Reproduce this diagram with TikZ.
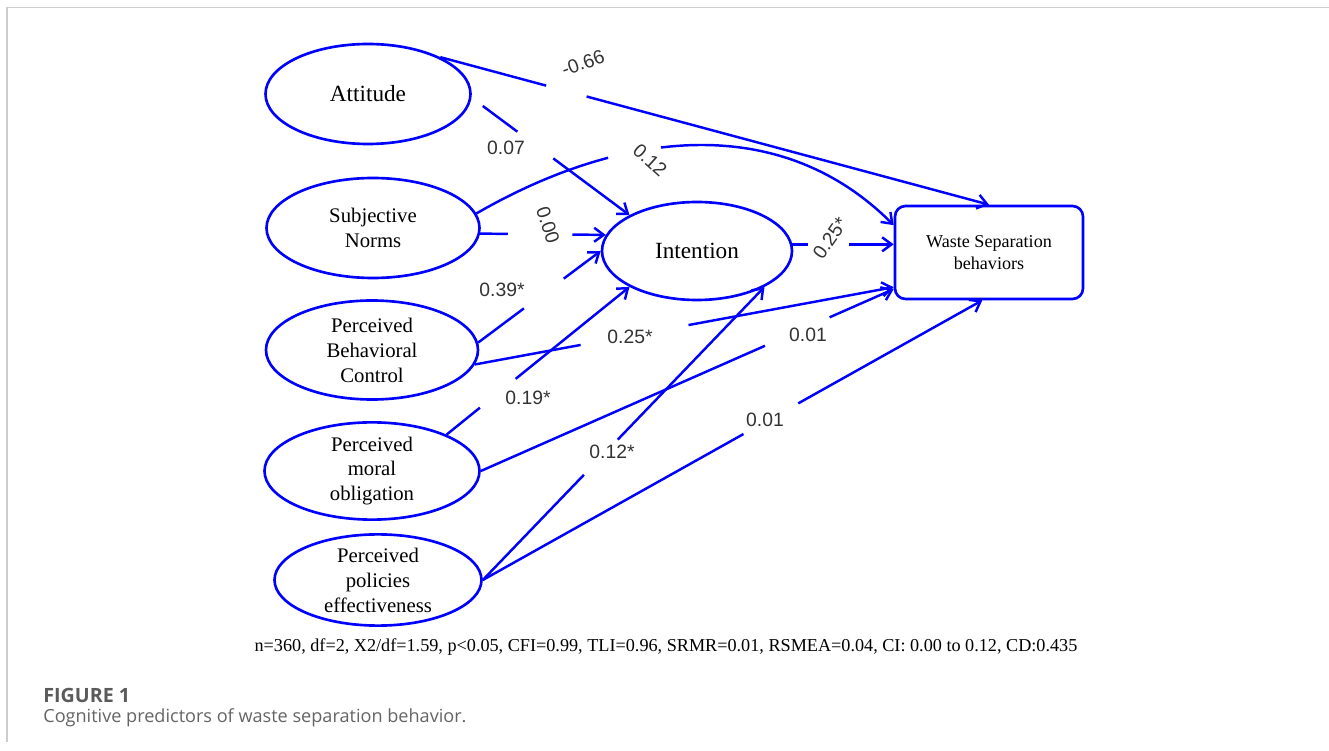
\documentclass[tikz,border=0pt]{standalone}
\usepackage{fontspec}
\setmainfont{Liberation Serif}
\newfontfamily\lblfont{Liberation Sans}
\newfontfamily\capfont{Open Sans}
\usetikzlibrary{arrows.meta,shapes.geometric,positioning}

\definecolor{semblue}{RGB}{0,0,255}
\definecolor{capgray}{RGB}{100,100,100}
\definecolor{framegray}{RGB}{205,205,205}

\begin{document}
\begin{tikzpicture}[
  >={Straight Barb[length=1.9mm,width=2.8mm]},
  latent/.style={draw=semblue, line width=1.5pt, ellipse, inner sep=0pt,
                 align=center, font=\fontsize{11.8}{14.2}\selectfont},
  bigvar/.style={latent, font=\fontsize{13.2}{15}\selectfont},
  outcome/.style={draw=semblue, line width=1.5pt, rounded corners=6pt,
                  align=center, font=\fontsize{10.3}{12.5}\selectfont},
  lbl/.style={font=\lblfont\fontsize{11}{12}\selectfont, black!80, inner sep=1pt},
  e/.style={->, semblue, line width=1.4pt},
  % one break in a path, where its coefficient is printed
  brk/.style 2 args={dash pattern=on #1 off #2 on 2000pt}
]
\useasboundingbox (0,0) rectangle (26.58,-15.02);

% page frame (top and left only)
\draw[framegray, line width=0.8pt] (26.58,-0.15) -- (0.14,-0.15) -- (0.14,-14.84);

% predictors on the left
\node[bigvar, minimum width=4.1cm,  minimum height=2.0cm]  (att) at (7.36,-1.88)  {Attitude};
\node[latent, minimum width=4.26cm, minimum height=2.0cm]  (sn)  at (7.46,-4.56)  {Subjective\\Norms};
\node[latent, minimum width=4.24cm, minimum height=1.98cm] (pbc) at (7.44,-7.00)  {Perceived\\Behavioral\\Control};
\node[latent, minimum width=4.3cm,  minimum height=1.86cm] (pmo) at (7.44,-9.42)  {Perceived\\moral\\obligation};
\node[latent, minimum width=4.14cm, minimum height=1.8cm]  (ppe) at (7.56,-11.60) {Perceived\\policies\\effectiveness};

% mediator and outcome
\node[bigvar, minimum width=3.8cm, minimum height=1.96cm] (int) at (13.94,-5.02) {Intention};
\node[outcome, minimum width=3.76cm, minimum height=1.86cm] (wsb) at (19.78,-5.05) {Waste Separation\\behaviors};

% paths
\draw[e, brk={62.4pt}{23.8pt}] (att.27) -- (wsb.north);
\draw[e, brk={24.5pt}{25.5pt}, shorten <=0.28cm] (att.-2) -- (int.152);
\draw[e, brk={81.6pt}{30.7pt}] (sn.8) to[out=30, in=135] (wsb.164);
\draw[e, brk={15.7pt}{36.8pt}] (sn.-3) -- (int.170);
\draw[e, brk={32.5pt}{28.3pt}] (pbc.4) -- (int.180);
\draw[e, brk={61.2pt}{62.4pt}] (pbc.-8) -- (wsb.200);
\draw[e, brk={24.4pt}{26.1pt}] (pmo.26) -- (int.208);
\draw[e, brk={176.7pt}{40.2pt}] (pmo.east) -- (wsb.201);
\draw[e, brk={83pt}{27.8pt}] (ppe.east) -- (int.-28);
\draw[e, brk={170pt}{35.7pt}] (ppe.east) -- (wsb.262);
\draw[e, brk={9pt}{23.2pt}] (int.4) -- (int.4 -| wsb.west);

% coefficients
\node[lbl, rotate=20]  (c1)  at (11.66,-1.26) {-0.66};
\node[lbl]             (c2)  at (10.12,-2.96) {0.07};
\node[lbl, rotate=-42] (c3)  at (13.0,-3.2)   {0.12};
\node[lbl, rotate=-72] (c4)  at (10.96,-4.5)  {0.00};
\node[lbl]             (c5)  at (10.04,-5.8)  {0.39*};
\node[lbl]             (c6)  at (12.6,-6.74)  {0.25*};
\node[lbl]             (c7)  at (10.56,-7.96) {0.19*};
\node[lbl]             (c8)  at (16.16,-6.7)  {0.01};
\node[lbl]             (c9)  at (12.24,-9.04) {0.12*};
\node[lbl]             (c10) at (15.3,-8.4)   {0.01};
\node[lbl, rotate=55]  (c11) at (16.6,-4.76)  {0.25*};

% fit indices under the model
\node[font=\fontsize{10.35}{12}\selectfont] (fit) at (13.32,-12.94)
  {n=360, df=2, X2/df=1.59, p<0.05, CFI=0.99, TLI=0.96, SRMR=0.01, RSMEA=0.04, CI: 0.00 to 0.12, CD:0.435};

% caption
\node[anchor=west, inner sep=0pt, font=\capfont\bfseries\fontsize{11.2}{13}\selectfont, capgray!90!black]
  (figno) at (0.86,-13.9) {FIGURE 1};
\node[anchor=west, inner sep=0pt, font=\capfont\fontsize{10.3}{12}\selectfont, capgray]
  (figcap) at (0.86,-14.36) {Cognitive predictors of waste separation behavior.};
\end{tikzpicture}
\end{document}
